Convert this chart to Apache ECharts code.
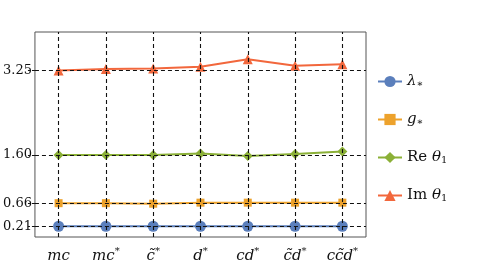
<!DOCTYPE html>
<html><head><meta charset="utf-8">
<script src="https://cdn.jsdelivr.net/npm/echarts@6/dist/echarts.min.js"></script>
<style>html,body{margin:0;padding:0;background:#fff}#c{width:498px;height:271px}</style>
</head><body><div id="c"></div>
<script>
const categories = ['mc', 'mc*', 'c\u0303*', 'd*', 'cd*', 'c\u0303d*', 'cc\u0303d*'];
const lambdaStar = [0.21, 0.21, 0.21, 0.21, 0.21, 0.21, 0.21];
const gStar = [0.66, 0.66, 0.65, 0.67, 0.67, 0.67, 0.67];
const reTheta1 = [1.60, 1.60, 1.60, 1.63, 1.58, 1.62, 1.67];
const imTheta1 = [3.25, 3.28, 3.29, 3.32, 3.47, 3.34, 3.37];
const yTicks = [0.21, 0.66, 1.60, 3.25];
const seriesNames = ['lambda', 'g', 'Re', 'Im'];

const serif = 'DejaVu Serif';
const chart = echarts.init(document.getElementById('c'));
const colors = ['#5b7fbc', '#eda22c', '#8bb037', '#f2673c'];
const symbols = ['circle', 'rect', 'diamond', 'triangle'];
const sizes = [11, 8, 10, 10];
const dataSets = [lambdaStar, gStar, reTheta1, imTheta1];

function catLabel(v) {
  if (v.endsWith('*')) return '{a|' + v.slice(0, -1) + '}{s|*}';
  return '{a|' + v + '}';
}
const legendFmt = {
  lambda: '{i|λ}{sub|∗}',
  g: '{i|g}{sub|∗}',
  Re: '{r|Re }{i|θ}{sub|1}',
  Im: '{r|Im }{i|θ}{sub|1}'
};

const series = dataSets.map((d, k) => ({
  name: seriesNames[k], type: 'line', data: d,
  symbol: symbols[k], symbolSize: sizes[k],
  lineStyle: {width: 2, color: colors[k]},
  itemStyle: {color: colors[k]},
  z: 3, animation: false
}));
series.push({
  type: 'line', data: [], silent: true, z: 1, animation: false,
  markLine: {
    silent: true, symbol: 'none', animation: false,
    label: {show: false},
    lineStyle: {color: '#111', type: [4, 3], width: 1.1},
    data: categories.map(c => ({xAxis: c})).concat(yTicks.map(t => ({yAxis: t})))
  }
});

chart.setOption({
  animation: false,
  grid: {left: 33, top: 32, right: 132, bottom: 34, show: true, borderColor: '#555', borderWidth: 1},
  xAxis: {
    type: 'category', data: categories, boundaryGap: true,
    axisLine: {show: false}, axisTick: {show: false}, splitLine: {show: false},
    axisLabel: {
      interval: 0, margin: 9, formatter: catLabel,
      rich: {
        a: {fontFamily: serif, fontStyle: 'italic', fontSize: 15, color: '#111', lineHeight: 20},
        s: {fontFamily: serif, fontSize: 10, color: '#111', verticalAlign: 'top', lineHeight: 20}
      }
    }
  },
  yAxis: {
    type: 'value', min: 0, max: 4.0,
    axisLine: {show: false}, splitLine: {show: false},
    axisTick: {show: true, customValues: yTicks, length: 7, lineStyle: {color: '#111', type: [3, 2]}},
    axisLabel: {
      customValues: yTicks, margin: 3, fontFamily: serif, fontSize: 13, color: '#111',
      formatter: v => v.toFixed(2)
    }
  },
  legend: {
    orient: 'vertical', left: 372, top: 69, itemGap: 22.5, itemWidth: 24, itemHeight: 14,
    data: seriesNames,
    formatter: n => legendFmt[n],
    textStyle: {
      rich: {
        i: {fontFamily: serif, fontStyle: 'italic', fontSize: 15, color: '#111'},
        r: {fontFamily: serif, fontSize: 15, color: '#111'},
        sub: {fontFamily: serif, fontSize: 10, color: '#111', verticalAlign: 'bottom', padding: [6, 0, 0, 0]}
      }
    }
  },
  series: series
});
</script></body></html>
